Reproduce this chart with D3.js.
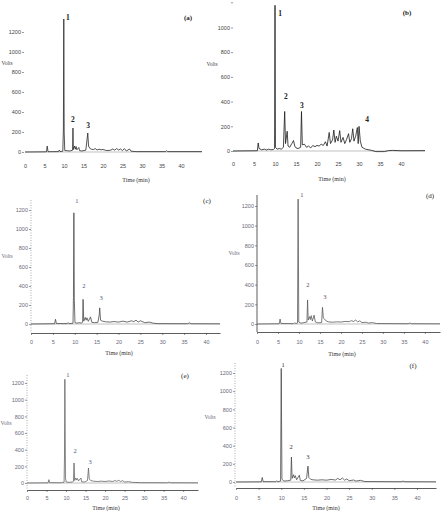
<!DOCTYPE html>
<html>
<head>
<meta charset="utf-8">
<script src="https://cdn.jsdelivr.net/npm/d3@7"></script>
<style>
  body { margin: 0; background: #fff; }
  svg { display: block; font-family: "Liberation Serif", "Times New Roman", serif; }
</style>
</head>
<body>
<svg width="445" height="511"></svg>
<script>
// tick values
var xTicks = [0, 5, 10, 15, 20, 25, 30, 35, 40];
var yTicks = [0, 200, 400, 600, 800, 1000, 1200];
var yTicksB = [0, 200, 400, 600, 800, 1000];

// chromatogram traces, [time (min), volts]
var traceA = [[0,0],[5.5,2],[5.7,60],[5.9,3],[8.6,4],[8.8,20],[9.0,4],[9.7,8],[9.85,230],[9.95,1330],[10.05,190],[10.2,15],
  [11.5,10],[12.2,18],[12.3,240],[12.4,25],[12.7,60],[12.9,28],[13.1,55],[13.3,22],[13.8,45],[14.0,14],[14.6,10],
  [15.6,18],[15.9,120],[16.1,190],[16.3,60],[16.6,38],[17.0,28],[17.5,24],[18.0,34],[18.5,20],[19.0,28],[19.5,22],
  [20.0,25],[21.0,14],[22.0,18],[22.5,30],[23.0,18],[23.5,34],[24.0,20],[24.5,30],[25.0,14],[25.5,34],[26.0,10],
  [26.8,30],[27.2,8],[28.5,4],[36.0,4],[36.3,12],[36.6,4],[45.4,4]];

var traceB = [[0,0],[5.8,2],[6.0,65],[6.2,20],[6.8,10],[7.5,15],[8.0,8],[8.5,15],[9.0,10],[9.6,12],[9.9,20],[10.0,1180],
  [10.1,30],[10.5,15],[11.0,20],[11.5,15],[12.0,30],[12.3,320],[12.5,60],[12.9,160],[13.1,40],[13.5,30],[14.0,60],
  [14.4,85],[14.7,40],[15.0,25],[15.5,20],[16.1,30],[16.3,320],[16.5,50],[17.0,55],[17.5,30],[18.0,40],[18.5,25],
  [19.0,45],[19.5,35],[20.0,45],[20.5,40],[21.0,55],[21.5,45],[22.0,75],[22.4,40],[22.9,150],[23.2,60],[23.7,90],
  [24.0,170],[24.3,70],[24.6,120],[25.0,80],[25.4,165],[25.7,70],[26.2,110],[26.6,60],[27.0,90],[27.5,140],[27.8,70],
  [28.2,100],[28.5,180],[28.8,80],[29.2,120],[29.6,190],[29.8,60],[30.0,200],[30.3,80],[30.7,30],[31.5,15],[33.0,5],
  [34.0,-5],[36.0,-5],[37.0,3],[38.0,5],[40.0,2],[45.7,3]];

var traceC = [[0,0],[5.4,3],[5.6,50],[5.8,5],[8.3,4],[8.5,15],[8.7,3],[9.6,8],[9.7,280],[9.8,1170],[9.9,250],[10.05,15],
  [10.5,8],[11.0,14],[11.6,10],[11.8,20],[11.9,260],[12.05,30],[12.4,70],[12.6,40],[12.8,65],[13.1,28],[13.6,75],
  [13.9,18],[14.5,14],[15.3,18],[15.6,100],[15.7,170],[15.9,40],[16.3,30],[17.0,24],[18.0,20],[19.0,26],[20.0,20],
  [21.0,30],[22.0,20],[23.0,34],[23.5,24],[24.0,40],[24.5,20],[25.0,34],[26.0,14],[27.0,20],[28.0,8],[29.0,4],
  [35.8,3],[36.2,12],[36.6,3],[43.2,2]];

var traceD = [[0,0],[5.3,3],[5.5,50],[5.7,5],[8.7,4],[9.0,12],[9.3,4],[9.65,10],[9.8,1270],[9.95,20],[10.5,8],[11.2,14],
  [11.9,20],[12.05,245],[12.2,40],[12.5,75],[12.7,45],[12.9,85],[13.2,30],[13.6,90],[13.9,20],[14.5,12],[15.4,14],
  [15.6,170],[15.8,60],[16.1,50],[16.5,30],[17.0,22],[18.0,18],[19.0,22],[20.0,20],[21.0,26],[22.0,24],[22.5,34],
  [23.0,26],[23.5,40],[24.0,22],[24.5,32],[25.0,14],[26.0,18],[26.5,10],[27.5,14],[28.5,5],[36.0,3],[36.4,10],
  [36.8,3],[43.6,2]];

var traceE = [[0,0],[5.4,2],[5.6,40],[5.8,4],[8.8,3],[9.0,12],[9.2,3],[9.5,10],[9.6,300],[9.7,1245],[9.85,60],[10.05,12],
  [10.8,8],[11.6,12],[11.9,20],[12.05,240],[12.2,30],[12.5,60],[12.7,35],[12.9,55],[13.2,25],[13.8,60],[14.0,15],
  [14.8,12],[15.5,30],[15.75,180],[15.95,50],[16.3,30],[17.0,22],[18.0,18],[19.0,22],[20.0,18],[21.0,24],[22.0,18],
  [22.5,30],[23.0,20],[23.5,32],[24.0,18],[24.5,28],[25.0,12],[26.0,16],[27.0,8],[29.0,4],[36.0,3],[36.4,10],
  [36.8,3],[43.8,2]];

var traceF = [[0,0],[5.6,2],[5.8,50],[6.0,4],[8.8,3],[9.0,14],[9.2,3],[9.85,10],[10.0,1250],[10.15,30],[10.6,10],
  [11.4,14],[12.1,20],[12.25,275],[12.4,40],[12.7,80],[12.9,45],[13.1,70],[13.4,25],[14.0,75],[14.2,18],[14.8,12],
  [15.6,40],[15.9,175],[16.1,50],[16.5,30],[17.0,24],[18.0,20],[19.0,24],[20.0,20],[21.0,28],[22.0,22],[22.5,40],
  [23.0,24],[23.5,44],[24.0,20],[24.5,34],[25.0,14],[26.0,22],[26.5,10],[27.5,18],[28.5,5],[36.5,3],[36.9,10],
  [37.3,3],[44.2,2]];

// peak numbers, [time, volts, label]
var peaksA = [[11.0,1320,"1"],[12.3,300,"2"],[16.2,240,"3"]];
var peaksB = [[11.2,1090,"1"],[12.6,420,"2"],[16.4,350,"3"],[31.9,235,"4"]];
var peaksC = [[10.5,1270,"1"],[12.1,380,"2"],[16.0,250,"3"]];
var peaksD = [[10.7,1290,"1"],[12.1,375,"2"],[16.2,254,"3"]];
var peaksE = [[10.5,1270,"1"],[12.3,360,"2"],[16.2,228,"3"]];
var peaksF = [[10.4,1264,"1"],[12.2,363,"2"],[15.9,253,"3"]];

var panels = [
  {tag:"(a)", trace:traceA, peaks:peaksA, ticks:yTicks, xr:[25,202], tMax:45.4, yr:[152,32],
   tagXY:[188,20], voltsXY:[7,65], timeXY:[136,182], axisY:152, xPad:12, axisX:24, yLine:null, xLine:false,
   line:"#2a2a2a", text:"#444", peakText:"#222", peakSize:7.5, peakWeight:"bold"},
  {tag:"(b)", trace:traceB, peaks:peaksB, ticks:yTicksB, xr:[233,425], tMax:45.7, yr:[151,2.8],
   tagXY:[407,15], voltsXY:[212,66], timeXY:[332,181], axisY:151, xPad:11, axisX:233, yLine:null, xLine:false,
   line:"#1a1a1a", text:"#444", peakText:"#222", peakSize:7.5, peakWeight:"bold"},
  {tag:"(c)", trace:traceC, peaks:peaksC, ticks:yTicks, xr:[31,220], tMax:43.2, yr:[324,210],
   tagXY:[207,203], voltsXY:[7,258], timeXY:[119,355], axisY:333, xPad:5, axisX:31, yLine:[200,333], dotted:true, xLine:true,
   line:"#4a4a4a", text:"#6a6a78", peakText:"#4a5a80", peakSize:6.5, peakWeight:"normal"},
  {tag:"(d)", trace:traceD, peaks:peaksD, ticks:yTicks, xr:[257,440], tMax:43.6, yr:[324,206],
   tagXY:[430,198], voltsXY:[234,255], timeXY:[342,356], axisY:332, xPad:6, axisX:257, yLine:[195,332], dotted:false, xLine:true,
   line:"#5a5a5a", text:"#6a6a78", peakText:"#6a4a50", peakSize:6.5, peakWeight:"normal"},
  {tag:"(e)", trace:traceE, peaks:peaksE, ticks:yTicks, xr:[27,198], tMax:43.8, yr:[483,383],
   tagXY:[185,378], voltsXY:[6,425], timeXY:[106,510], axisY:490, xPad:4, axisX:27, yLine:[375,490], dotted:true, xLine:true,
   line:"#666", text:"#6a6a78", peakText:"#4a5a80", peakSize:6.5, peakWeight:"normal"},
  {tag:"(f)", trace:traceF, peaks:peaksF, ticks:yTicks, xr:[236,436], tMax:44.2, yr:[482,373],
   tagXY:[413,368], voltsXY:[210,419], timeXY:[326,510], axisY:488, xPad:6, axisX:235, yLine:[363,488], dotted:true, xLine:true,
   line:"#4a4a4a", text:"#6a6a78", peakText:"#333", peakSize:6.5, peakWeight:"normal"}
];

var svg = d3.select("svg");

panels.forEach(function(p) {
    var g = svg.append("g");
    var x = d3.scaleLinear().domain([0, p.tMax]).range(p.xr);
    var y = d3.scaleLinear().domain([0, 1200]).range(p.yr);

    // x axis
    var xAxis = g.append("g")
        .attr("transform", "translate(0," + p.axisY + ")")
        .call(d3.axisBottom(x).tickValues(xTicks).tickSize(p.xLine ? 2 : 0)
              .tickSizeOuter(0).tickPadding(p.xPad).tickFormat(d3.format("d")));
    if (!p.xLine) xAxis.select(".domain").remove();
    xAxis.select(".domain").attr("stroke", "#333").attr("stroke-width", 0.8);
    xAxis.selectAll(".tick line").attr("stroke", "#444").attr("stroke-width", 0.6);

    // y axis
    var yAxis = g.append("g")
        .attr("transform", "translate(" + p.axisX + ",0)")
        .call(d3.axisLeft(y).tickValues(p.ticks).tickSize(2).tickPadding(1).tickFormat(d3.format("d")));
    yAxis.select(".domain").remove();
    yAxis.selectAll(".tick line").attr("stroke", "#555").attr("stroke-width", 0.6);
    if (p.tag == "(b)") {
        yAxis.append("line").attr("x1", -2).attr("x2", 0)
            .attr("y1", y(1200)).attr("y2", y(1200)).attr("stroke", "#555").attr("stroke-width", 0.6);
    }
    if (p.yLine) {
        g.append("line")
            .attr("x1", p.axisX).attr("x2", p.axisX)
            .attr("y1", p.yLine[0]).attr("y2", p.yLine[1])
            .attr("stroke", p.dotted ? "#888" : "#333")
            .attr("stroke-width", p.dotted ? 0.7 : 0.8)
            .attr("stroke-dasharray", p.dotted ? "1,1.5" : null);
    }

    g.selectAll(".tick text")
        .attr("fill", p.text)
        .style("font-size", "5.5px");

    // baseline
    g.append("line")
        .attr("x1", x(0)).attr("x2", x(p.tMax))
        .attr("y1", y(0)).attr("y2", y(0))
        .attr("stroke", "#999").attr("stroke-width", 0.6);

    // trace
    var line = d3.line()
        .x(function(d) { return x(d[0]); })
        .y(function(d) { return y(d[1]); });

    g.append("path")
        .datum(p.trace)
        .attr("d", line)
        .attr("fill", "none")
        .attr("stroke", p.line)
        .attr("stroke-width", 0.8)
        .attr("stroke-linejoin", "round");

    // peak numbers
    g.selectAll(".peak")
        .data(p.peaks)
        .enter().append("text")
        .attr("class", "peak")
        .attr("x", function(d) { return x(d[0]); })
        .attr("y", function(d) { return y(d[1]); })
        .attr("text-anchor", "middle")
        .attr("fill", p.peakText)
        .style("font-size", p.peakSize + "px")
        .style("font-weight", p.peakWeight)
        .text(function(d) { return d[2]; });

    // labels
    g.append("text")
        .attr("x", p.tagXY[0]).attr("y", p.tagXY[1])
        .attr("text-anchor", "middle")
        .attr("fill", "#222")
        .style("font-size", "7px")
        .style("font-weight", p.peakWeight)
        .text(p.tag);

    g.append("text")
        .attr("x", p.voltsXY[0]).attr("y", p.voltsXY[1])
        .attr("text-anchor", "middle")
        .attr("fill", p.text)
        .style("font-size", "5.5px")
        .text("Volts");

    g.append("text")
        .attr("x", p.timeXY[0]).attr("y", p.timeXY[1])
        .attr("text-anchor", "middle")
        .attr("fill", "#333")
        .style("font-size", "6px")
        .text("Time (min)");
});
</script>
</body>
</html>
